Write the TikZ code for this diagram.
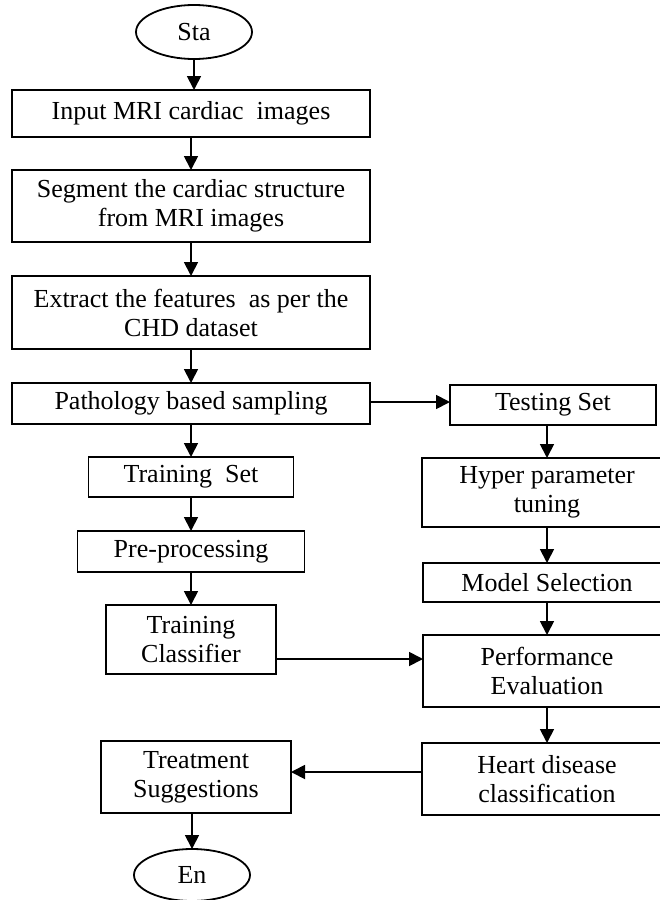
\documentclass[tikz,border=0pt]{standalone}
\usepackage{fontspec}
\setmainfont{Liberation Serif}
\usetikzlibrary{arrows.meta,shapes.geometric}
\begin{document}
\begin{tikzpicture}[x=1pt,y=-1pt,
  every node/.style={inner sep=0pt, outer sep=0pt, font=\fontsize{26}{29}\selectfont, text=black},
  box/.style={draw, line width=1.8pt, align=center},
  term/.style={draw, ellipse, line width=1.8pt},
  arr/.style={line width=1.8pt, -{Triangle[length=14pt,width=14pt]}}]
\useasboundingbox (0,0) rectangle (660,900);
\clip (0,0) rectangle (660,900);

% terminals
\node[term, minimum width=116pt, minimum height=54pt] (sta) at (194,32) {Sta};
\node[term, minimum width=116pt, minimum height=52pt] (en) at (192,875) {En};

% left column
\node[box, minimum width=358pt, minimum height=47pt] (inp) at (191,113.5) {Input MRI cardiac\ \ images};
\node[box, minimum width=358pt, minimum height=72pt] (seg) at (191,206) {Segment the cardiac structure\\from MRI images};
\node[box, minimum width=358pt, minimum height=73pt] (ext) at (191,312.5) {Extract the features\ \ as per the\\CHD dataset};
\node[box, minimum width=358pt, minimum height=41pt] (pth) at (191,403.5) {Pathology based sampling};
\node[box, minimum width=205pt, minimum height=40pt] (trs) at (191,477) {Training\ \ Set};
\node[box, minimum width=227pt, minimum height=41pt] (pre) at (191,551.5) {Pre-processing};
\node[box, minimum width=170pt, minimum height=69pt] (tcl) at (191,639.5) {Training\\Classifier};
\node[box, minimum width=190pt, minimum height=72pt] (trt) at (196,777) {Treatment\\Suggestions};

% right column
\node[box, minimum width=206pt, minimum height=40pt] (tst) at (553,405) {Testing Set};
\node[box, minimum width=250pt, minimum height=69pt] (hyp) at (547,492.5) {Hyper parameter\\tuning};
\node[box, minimum width=248pt, minimum height=39pt] (mod) at (547,582.5) {Model Selection};
\node[box, minimum width=248pt, minimum height=72pt] (per) at (547,671) {Performance\\Evaluation};
\node[box, minimum width=250pt, minimum height=72pt] (hrt) at (547,779) {Heart disease\\classification};

% flow
\draw[arr] (sta.south) -- (sta.south |- inp.north);
\draw[arr] (inp.south) -- (seg.north);
\draw[arr] (seg.south) -- (ext.north);
\draw[arr] (ext.south) -- (pth.north);
\draw[arr] (pth.south) -- (pth.south |- trs.north);
\draw[arr] (trs.south) -- (trs.south |- pre.north);
\draw[arr] (pre.south) -- (pre.south |- tcl.north);
\draw[arr] ([yshift=1.5pt]pth.east) -- ([yshift=1.5pt]pth.east -| tst.west);
\draw[arr] (tst.south -| hyp.north) -- (hyp.north);
\draw[arr] (hyp.south) -- (mod.north);
\draw[arr] (mod.south) -- (per.north);
\draw[arr] ([yshift=-19.5pt]tcl.east) -- ([yshift=-19.5pt]tcl.east -| per.west);
\draw[arr] (per.south) -- (hrt.north);
\draw[arr] ([yshift=7pt]hrt.west) -- ([yshift=7pt]hrt.west -| trt.east);
\draw[arr] (trt.south -| en.north) -- (en.north);
\end{tikzpicture}
\end{document}
